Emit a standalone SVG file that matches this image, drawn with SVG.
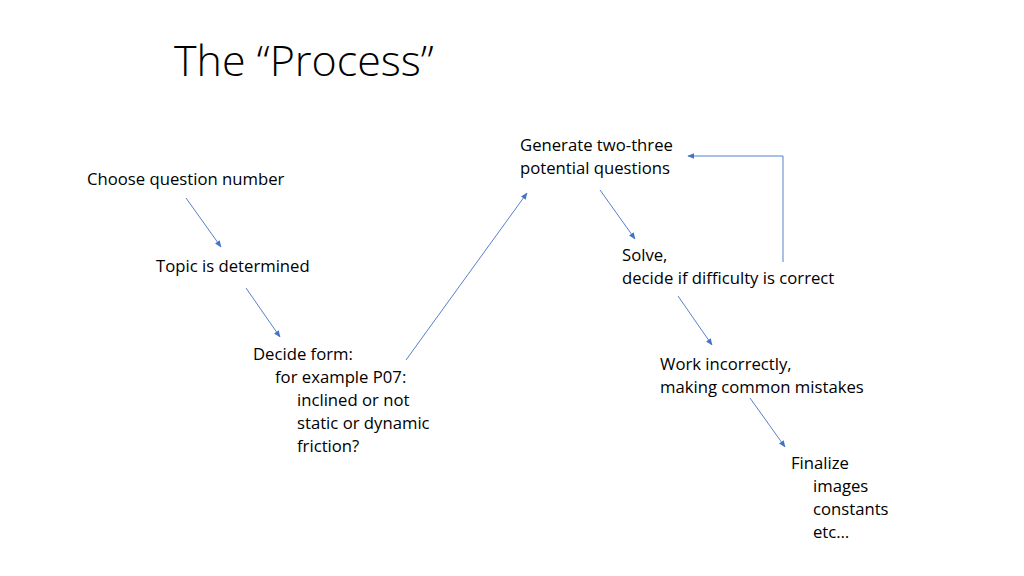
<svg xmlns="http://www.w3.org/2000/svg" width="1024" height="576" viewBox="0 0 1024 576">
<style>
.t{font-family:"Open Sans","Liberation Sans",sans-serif;font-size:16.7px;fill:#000}
.title{font-family:"Open Sans","Liberation Sans",sans-serif;font-size:43px;font-weight:300;fill:#000}
.c{stroke:#4472C4;stroke-width:0.9;fill:none;marker-end:url(#ah)}
</style>
<defs>
<marker id="ah" viewBox="0 0 10 10" refX="9" refY="5" markerWidth="7" markerHeight="7" markerUnits="userSpaceOnUse" orient="auto">
<path d="M0,1 L10,5 L0,9 z" fill="#4472C4"/>
</marker>
</defs>
<rect width="1024" height="576" fill="#fff"/>
<text class="title" x="174" y="76">The “Process”</text>
<g id="n1"><text class="t" x="87" y="185">Choose question number</text></g>
<g id="n2"><text class="t" x="156" y="272">Topic is determined</text></g>
<g id="n3"><text class="t">
<tspan x="253" y="360">Decide form:</tspan>
<tspan x="275" y="383">for example P07:</tspan>
<tspan x="297" y="406">inclined or not</tspan>
<tspan x="297" y="429">static or dynamic</tspan>
<tspan x="297" y="452">friction?</tspan></text></g>
<g id="n4"><text class="t"><tspan x="520" y="151">Generate two-three</tspan><tspan x="520" y="174">potential questions</tspan></text></g>
<g id="n5"><text class="t"><tspan x="622" y="261">Solve,</tspan><tspan x="622" y="284">decide if difficulty is correct</tspan></text></g>
<g id="n6"><text class="t"><tspan x="660" y="370">Work incorrectly,</tspan><tspan x="660" y="393">making common mistakes</tspan></text></g>
<g id="n7"><text class="t"><tspan x="791" y="469">Finalize</tspan><tspan x="813" y="492">images</tspan><tspan x="813" y="515">constants</tspan><tspan x="813" y="538">etc…</tspan></text></g>
<g id="connectors">
<line class="c" x1="186" y1="198" x2="221" y2="247"/>
<line class="c" x1="246" y1="288" x2="280" y2="337"/>
<line class="c" x1="406" y1="360" x2="527" y2="193"/>
<line class="c" x1="600" y1="190" x2="635" y2="239"/>
<line class="c" x1="678" y1="296" x2="712" y2="345"/>
<line class="c" x1="750" y1="398" x2="785" y2="447"/>
<polyline class="c" points="783,262 783,156 688,156"/>
</g>
</svg>
